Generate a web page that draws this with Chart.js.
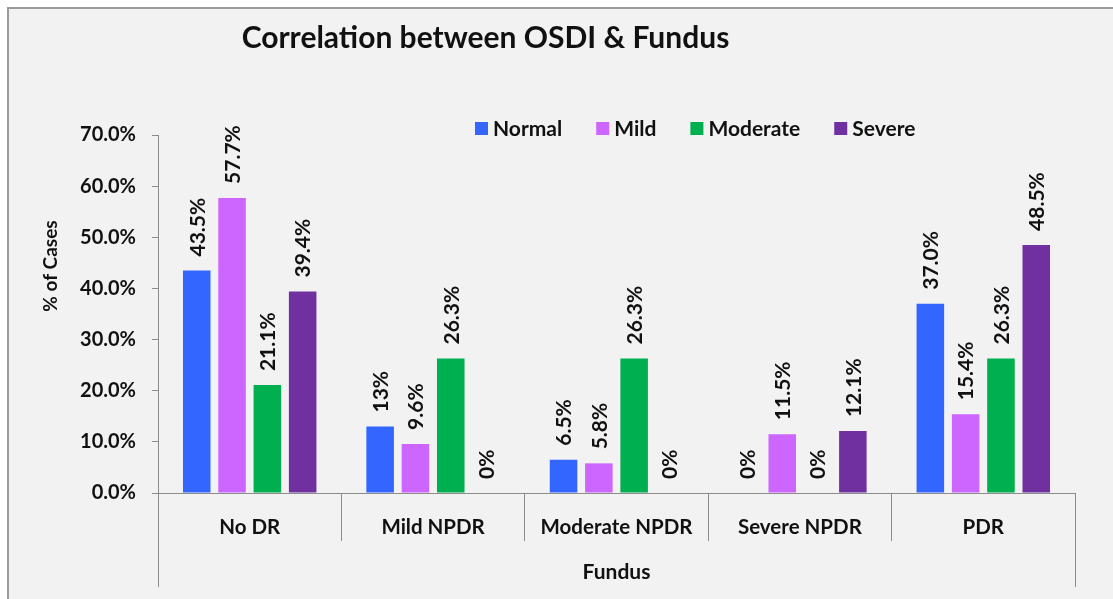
<!DOCTYPE html>
<html><head><meta charset="utf-8">
<script src="https://cdn.jsdelivr.net/npm/chart.js@4.4.0/dist/chart.umd.min.js"></script>
<style>html,body{margin:0;padding:0;background:#fff;overflow:hidden}#wrap{width:1113px;height:599px}</style>
</head><body><div id="wrap"><canvas id="c" width="1113" height="599"></canvas></div>
<script>
const chartTitle = 'Correlation between OSDI & Fundus';
const xTitle = 'Fundus';
const yTitle = '% of Cases';
const categories = ['No DR', 'Mild NPDR', 'Moderate NPDR', 'Severe NPDR', 'PDR'];
const seriesNames = ['Normal', 'Mild', 'Moderate', 'Severe'];
const normalValues = [43.5, 13, 6.5, 0, 37.0];
const mildValues = [57.7, 9.6, 5.8, 11.5, 15.4];
const moderateValues = [21.1, 26.3, 26.3, 0, 26.3];
const severeValues = [39.4, 0, 0, 12.1, 48.5];
const normalLabels = ['43.5%', '13%', '6.5%', '0%', '37.0%'];
const mildLabels = ['57.7%', '9.6%', '5.8%', '11.5%', '15.4%'];
const moderateLabels = ['21.1%', '26.3%', '26.3%', '0%', '26.3%'];
const severeLabels = ['39.4%', '0%', '0%', '12.1%', '48.5%'];
const yTicks = [0, 10, 20, 30, 40, 50, 60, 70];
const seriesColors = ['#3366FF', '#CC66FF', '#00B050', '#7030A0'];

const FONT = 'Lato, "Open Sans", sans-serif';
const TEXT = '#111111';
const AXIS = '#8c8c8c';

const allValues = [normalValues, mildValues, moderateValues, severeValues];
const allLabels = [normalLabels, mildLabels, moderateLabels, severeLabels];

const datasets = seriesNames.map((name, i) => ({
  label: name,
  data: allValues[i],
  valueLabels: allLabels[i],
  backgroundColor: seriesColors[i],
  borderWidth: 0,
  categoryPercentage: 0.77,
  barPercentage: 0.78
}));

const bgPlugin = {
  id: 'bg',
  beforeDraw(chart) {
    const ctx = chart.ctx;
    ctx.save();
    ctx.fillStyle = '#ffffff';
    ctx.fillRect(0, 0, chart.width, chart.height);
    ctx.fillStyle = '#f2f2f2';
    ctx.fillRect(8, 8, chart.width, chart.height);
    ctx.strokeStyle = '#9a9a9a';
    ctx.lineWidth = 2;
    ctx.beginPath();
    ctx.moveTo(8, chart.height + 5);
    ctx.lineTo(8, 8);
    ctx.lineTo(chart.width + 5, 8);
    ctx.stroke();
    ctx.restore();
  }
};

const shiftTitle = {
  id: 'shiftTitle',
  afterLayout(chart) {
    const t = chart.titleBlock;
    if (t) { t.left -= 52; t.right -= 52; }
  }
};

const axisExt = {
  id: 'axisExt',
  afterDraw(chart) {
    const ctx = chart.ctx, a = chart.chartArea;
    ctx.save();
    ctx.strokeStyle = AXIS;
    ctx.lineWidth = 1;
    ctx.beginPath();
    [a.left, a.right].forEach(x => {
      const xx = Math.round(x) + 0.5;
      ctx.moveTo(xx, a.bottom);
      ctx.lineTo(xx, 587);
    });
    ctx.stroke();
    ctx.font = 'bold 19px ' + FONT;
    ctx.fillStyle = TEXT;
    ctx.translate(51, 266);
    ctx.rotate(-Math.PI / 2);
    ctx.textAlign = 'center';
    ctx.textBaseline = 'middle';
    ctx.fillText(yTitle, 0, 0);
    ctx.restore();
  }
};

const valueLabelPlugin = {
  id: 'valueLabels',
  afterDatasetsDraw(chart) {
    const ctx = chart.ctx;
    ctx.save();
    ctx.font = 'bold 21px ' + FONT;
    ctx.fillStyle = TEXT;
    chart.data.datasets.forEach((ds, di) => {
      const meta = chart.getDatasetMeta(di);
      meta.data.forEach((bar, i) => {
        ctx.save();
        ctx.translate(bar.x, bar.y - 14);
        ctx.rotate(-Math.PI / 2);
        ctx.textAlign = 'left';
        ctx.textBaseline = 'middle';
        ctx.fillText(ds.valueLabels[i], 0, 1);
        ctx.restore();
      });
    });
    ctx.restore();
  }
};

const legendPlugin = {
  id: 'customLegend',
  afterDraw(chart) {
    const ctx = chart.ctx;
    ctx.save();
    ctx.font = 'bold 21px ' + FONT;
    ctx.textBaseline = 'middle';
    ctx.textAlign = 'left';
    let x = 475;
    const y = 128;
    chart.data.datasets.forEach(ds => {
      ctx.fillStyle = ds.backgroundColor;
      ctx.fillRect(x, y - 6, 13, 13);
      ctx.fillStyle = TEXT;
      ctx.fillText(ds.label, x + 18, y + 1);
      x += 18 + ctx.measureText(ds.label).width + 34;
    });
    ctx.restore();
  }
};

new Chart(document.getElementById('c'), {
  type: 'bar',
  data: { labels: categories, datasets },
  plugins: [bgPlugin, shiftTitle, axisExt, valueLabelPlugin, legendPlugin],
  options: {
    responsive: false,
    animation: false,
    devicePixelRatio: 1,
    layout: { padding: { top: 0, left: 0, right: 38, bottom: 0 } },
    plugins: {
      legend: { display: false },
      tooltip: { enabled: false },
      title: {
        display: true,
        text: chartTitle,
        color: TEXT,
        font: { family: FONT, size: 30, weight: 'bold', lineHeight: 1.2 },
        padding: { top: 20, bottom: 79 }
      }
    },
    scales: {
      x: {
        afterFit(scale) { scale.height = 106; },
        grid: { offset: true, drawOnChartArea: false, drawTicks: true, tickLength: 48, color: AXIS, lineWidth: 1 },
        border: { display: true, color: AXIS, width: 1 },
        ticks: { color: TEXT, padding: -26, font: { family: FONT, size: 20.5, weight: 'bold' } },
        title: { display: true, text: xTitle, color: TEXT, padding: { top: 0, bottom: 14 }, font: { family: FONT, size: 21, weight: 'bold' } }
      },
      y: {
        min: 0, max: 70,
        afterFit(scale) { scale.width = 158; },
        afterBuildTicks(scale) { scale.ticks = yTicks.map(v => ({ value: v })); },
        grid: { drawOnChartArea: false, drawTicks: true, tickLength: 6, color: AXIS },
        border: { display: true, color: AXIS, width: 1 },
        ticks: { color: TEXT, padding: 16, font: { family: FONT, size: 20, weight: 'bold' }, callback: v => v.toFixed(1) + '%' },
        title: { display: false }
      }
    }
  }
});
</script></body></html>
